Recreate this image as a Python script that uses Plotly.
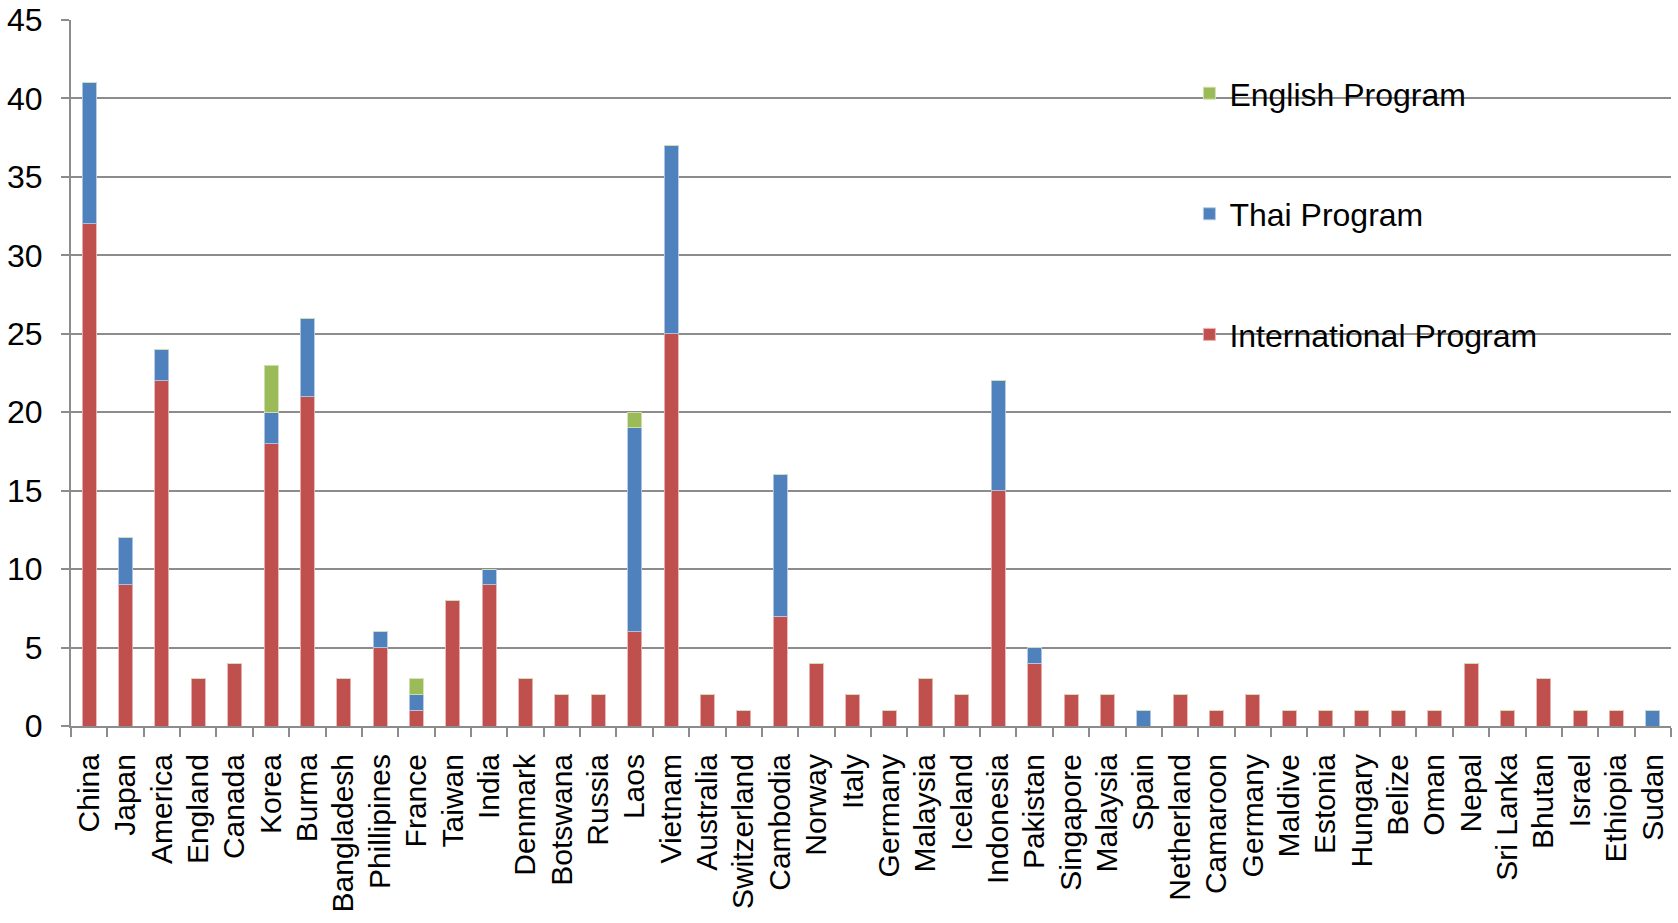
import plotly.graph_objects as go

countries = ["China", "Japan", "America", "England", "Canada", "Korea", "Burma", "Bangladesh",
             "Phillipines", "France", "Taiwan", "India", "Denmark", "Botswana", "Russia", "Laos",
             "Vietnam", "Australia", "Switzerland", "Cambodia", "Norway", "Italy", "Germany",
             "Malaysia", "Iceland", "Indonesia", "Pakistan", "Singapore", "Malaysia", "Spain",
             "Netherland", "Camaroon", "Germany", "Maldive", "Estonia", "Hungary", "Belize",
             "Oman", "Nepal", "Sri Lanka", "Bhutan", "Israel", "Ethiopia", "Sudan"]

international = [32, 9, 22, 3, 4, 18, 21, 3, 5, 1, 8, 9, 3, 2, 2, 6, 25, 2, 1, 7, 4, 2, 1,
                 3, 2, 15, 4, 2, 2, 0, 2, 1, 2, 1, 1, 1, 1, 1, 4, 1, 3, 1, 1, 0]
thai = [9, 3, 2, 0, 0, 2, 5, 0, 1, 1, 0, 1, 0, 0, 0, 13, 12, 0, 0, 9, 0, 0, 0,
        0, 0, 7, 1, 0, 0, 1, 0, 0, 0, 0, 0, 0, 0, 0, 0, 0, 0, 0, 0, 1]
english = [0, 0, 0, 0, 0, 3, 0, 0, 0, 1, 0, 0, 0, 0, 0, 1, 0, 0, 0, 0, 0, 0, 0,
           0, 0, 0, 0, 0, 0, 0, 0, 0, 0, 0, 0, 0, 0, 0, 0, 0, 0, 0, 0, 0]

y_ticks = [0, 5, 10, 15, 20, 25, 30, 35, 40, 45]

x = list(range(len(countries)))
FONT = "Liberation Sans, Arial, sans-serif"
GRID = "#8c8c8c"

fig = go.Figure()
series = [("International Program", international, "#C0504D", "rgba(235,180,180,0.9)", 3),
          ("Thai Program", thai, "#4F81BD", "rgba(180,200,230,0.9)", 2),
          ("English Program", english, "#9BBB59", "rgba(210,225,180,0.9)", 1)]
for i, (name, vals, col, edge, rank) in enumerate(series):
    fig.add_trace(go.Bar(x=x, y=vals, name=name, legendgroup=f"g{i}", legendrank=rank,
                         marker=dict(color=col, line=dict(color=edge, width=1))))

fig.update_layout(
    barmode="stack",
    bargap=0.615,
    width=1678, height=923,
    margin=dict(l=71, r=7, t=20, b=197, autoexpand=False),
    paper_bgcolor="white", plot_bgcolor="white",
    font=dict(family=FONT, size=30, color="black"),
    legend=dict(x=0.699, y=0.935, xanchor="left", yanchor="top",
                traceorder="grouped", tracegroupgap=76,
                font=dict(size=32, family=FONT, color="black"),
                bgcolor="rgba(0,0,0,0)"),
    showlegend=True,
)
fig.update_xaxes(
    range=[-0.5, len(countries) - 0.5],
    tickmode="array", tickvals=x, ticktext=countries,
    tickangle=-90, ticks="", showgrid=False,
    showline=True, linecolor=GRID, linewidth=2,
    ticklabelstandoff=14, automargin=False,
    tickfont=dict(size=30, family=FONT, color="black"),
    minor=dict(tick0=-0.5, dtick=1, ticks="outside", ticklen=9,
               tickcolor=GRID, tickwidth=2, showgrid=False),
    zeroline=False,
)
fig.update_yaxes(
    range=[0, 45], tickmode="array", tickvals=y_ticks,
    showgrid=True, gridcolor=GRID, gridwidth=1.5,
    showline=True, linecolor=GRID, linewidth=2,
    ticks="outside", ticklen=8, tickcolor=GRID, tickwidth=2,
    ticklabelstandoff=12, automargin=False,
    tickfont=dict(size=32, family=FONT, color="black"),
    zeroline=False,
)

fig.write_html("out.html",
               config={"displayModeBar": False},
               post_script="document.body.style.margin='0';document.body.style.overflow='hidden';")
